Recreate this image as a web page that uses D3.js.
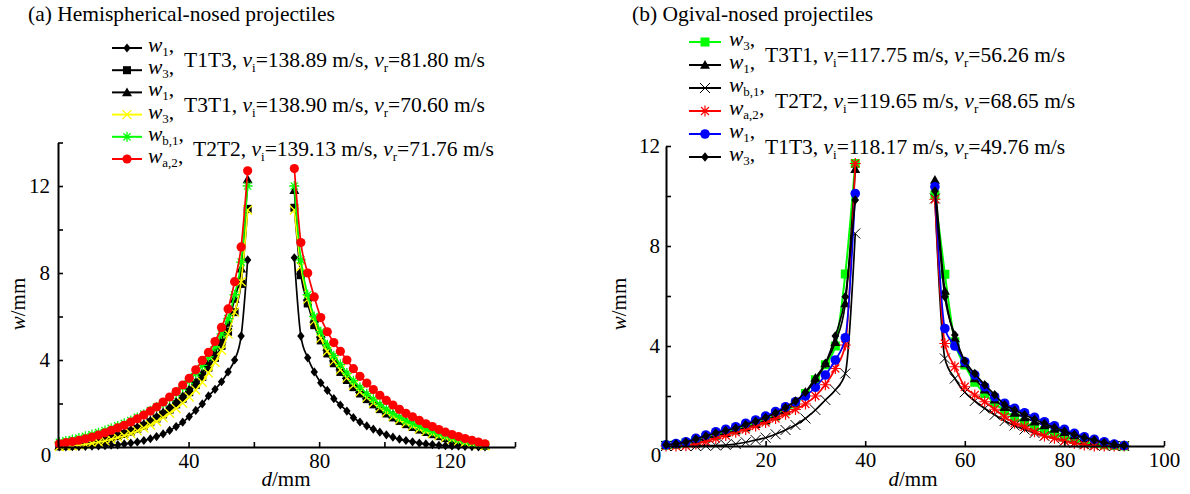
<!DOCTYPE html>
<html>
<head>
<meta charset="utf-8">
<script src="https://cdn.jsdelivr.net/npm/d3@7"></script>
<style>
  body { margin: 0; background: #fff; }
  svg text { font-family: "Liberation Serif", "DejaVu Serif", "Noto Serif", serif; fill: #000; }
</style>
</head>
<body>
<div id="chart"></div>
<script>
// ---- (a) Hemispherical-nosed projectiles ----
const dA_left = [0.4, 2.4, 4.4, 6.4, 8.4, 10.4, 12.4, 14.4, 16.3, 18.3, 20.3, 22.3, 24.3, 26.3, 28.3,
  30.2, 32.2, 34.2, 36.2, 38.2, 40.2, 42.2, 44.2, 46.1, 48.1, 50.1, 52.1, 54.1, 56.1, 58.1];
const dA_right = [72.4, 74.4, 76.5, 78.5, 80.5, 82.5, 84.5, 86.5, 88.5, 90.5, 92.5, 94.6, 96.6, 98.6, 100.6,
  102.6, 104.6, 106.6, 108.6, 110.7, 112.7, 114.7, 116.7, 118.7, 120.7, 122.7, 124.7, 126.8, 128.8, 130.8];

const a_T1T3_w1_L = [0.01, 0.01, 0.02, 0.02, 0.03, 0.04, 0.05, 0.06, 0.08, 0.1, 0.14, 0.18, 0.23, 0.3, 0.38,
  0.48, 0.6, 0.76, 0.94, 1.14, 1.4, 1.68, 1.98, 2.35, 2.65, 3.0, 3.45, 4.0, 5.1, 8.6];
const a_T1T3_w1_R = [8.7, 5.1, 4.1, 3.45, 2.95, 2.6, 2.22, 1.93, 1.65, 1.35, 1.15, 0.97, 0.82, 0.68, 0.56,
  0.45, 0.36, 0.3, 0.24, 0.18, 0.14, 0.11, 0.08, 0.06, 0.05, 0.04, 0.03, 0.02, 0.01, 0.01];
const a_T1T3_w3_L = [0.03, 0.05, 0.07, 0.1, 0.15, 0.2, 0.26, 0.33, 0.41, 0.5, 0.6, 0.71, 0.84, 0.98, 1.14,
  1.31, 1.5, 1.72, 1.96, 2.22, 2.52, 2.85, 3.22, 3.65, 4.1, 4.65, 5.3, 6.2, 7.5, 10.95];
const a_T1T3_w3_R = [11.0, 7.9, 6.6, 5.6, 4.9, 4.3, 3.85, 3.45, 3.08, 2.75, 2.46, 2.2, 1.96, 1.74, 1.54,
  1.36, 1.2, 1.05, 0.92, 0.8, 0.69, 0.59, 0.5, 0.41, 0.34, 0.27, 0.2, 0.15, 0.1, 0.06];
const a_T3T1_w1_L = [0.05, 0.07, 0.1, 0.15, 0.2, 0.25, 0.32, 0.39, 0.47, 0.56, 0.67, 0.79, 0.92, 1.06, 1.22,
  1.4, 1.6, 1.83, 2.08, 2.35, 2.65, 3.0, 3.4, 3.85, 4.35, 4.95, 5.7, 6.8, 8.2, 12.3];
const a_T3T1_w1_R = [11.8, 8.1, 6.9, 5.9, 5.2, 4.6, 4.1, 3.7, 3.3, 2.95, 2.65, 2.37, 2.12, 1.89, 1.68,
  1.49, 1.32, 1.17, 1.03, 0.9, 0.78, 0.67, 0.57, 0.48, 0.4, 0.32, 0.25, 0.19, 0.13, 0.08];
const a_T3T1_w3_L = [0.02, 0.04, 0.06, 0.09, 0.12, 0.17, 0.22, 0.28, 0.35, 0.43, 0.52, 0.62, 0.74, 0.87, 1.01,
  1.17, 1.35, 1.55, 1.77, 2.02, 2.3, 2.62, 2.98, 3.4, 3.9, 4.45, 5.2, 6.2, 7.6, 10.9];
const a_T3T1_w3_R = [10.9, 8.3, 6.8, 5.8, 5.0, 4.4, 3.95, 3.55, 3.18, 2.84, 2.54, 2.27, 2.02, 1.8, 1.6,
  1.41, 1.25, 1.1, 0.96, 0.84, 0.72, 0.62, 0.52, 0.43, 0.35, 0.28, 0.21, 0.15, 0.1, 0.06];
const a_T2T2_wb1_L = [0.22, 0.28, 0.34, 0.41, 0.49, 0.57, 0.66, 0.76, 0.86, 0.97, 1.09, 1.22, 1.36, 1.51, 1.67,
  1.84, 2.02, 2.24, 2.48, 2.75, 3.05, 3.38, 3.75, 4.15, 4.6, 5.2, 5.9, 7.0, 8.5, 12.0];
const a_T2T2_wb1_R = [12.0, 8.6, 7.0, 6.0, 5.3, 4.7, 4.2, 3.8, 3.4, 3.05, 2.75, 2.45, 2.2, 1.96, 1.74,
  1.54, 1.37, 1.22, 1.08, 0.95, 0.83, 0.72, 0.62, 0.53, 0.44, 0.36, 0.29, 0.22, 0.16, 0.1];
const a_T2T2_wa2_L = [0.15, 0.2, 0.25, 0.31, 0.38, 0.46, 0.55, 0.65, 0.76, 0.88, 1.0, 1.15, 1.3, 1.47, 1.65,
  1.84, 2.07, 2.3, 2.55, 2.85, 3.16, 3.55, 3.98, 4.35, 4.85, 5.5, 6.35, 7.6, 9.2, 12.7];
const a_T2T2_wa2_R = [12.8, 9.4, 8.0, 6.9, 5.95, 5.3, 4.8, 4.4, 4.0, 3.6, 3.25, 2.94, 2.64, 2.38, 2.14,
  1.93, 1.73, 1.55, 1.39, 1.22, 1.07, 0.94, 0.8, 0.68, 0.57, 0.48, 0.39, 0.31, 0.23, 0.15];

const subsA = ["1", "3", "1", "3", "b,1", "a,2"];
const casesA = ["T1T3", "T3T1", "T2T2"];
const viA = ["138.89", "138.90", "139.13"];
const vrA = ["81.80", "70.60", "71.76"];
const xTicksA = [20, 40, 60, 80, 100, 120, 140];
const xLabelsA = [40, 80, 120];
const yTicksA = [2, 4, 6, 8, 10, 12, 14];
const yLabelsA = [4, 8, 12];

// ---- (b) Ogival-nosed projectiles ----
const dB_left = [0, 2, 4, 6, 8, 10, 12, 14, 16, 18, 20, 22, 24, 26, 28, 30, 32, 34, 36, 38];
const dB_right = [54, 56, 58, 60, 62, 64, 66, 68, 70, 72, 74, 76, 78, 80, 82, 84, 86, 88, 90, 92];

const b_T3T1_w3_L = [0.03, 0.06, 0.12, 0.22, 0.33, 0.44, 0.54, 0.65, 0.77, 0.9, 1.04, 1.2, 1.4, 1.68, 2.1,
  2.65, 3.25, 4.0, 6.88, 11.3];
const b_T3T1_w3_R = [10.04, 6.87, 4.17, 3.24, 2.55, 2.1, 1.72, 1.4, 1.14, 0.93, 0.76, 0.61, 0.48, 0.36, 0.26,
  0.17, 0.1, 0.05, 0.02, 0.0];
const b_T3T1_w1_L = [0.03, 0.06, 0.12, 0.2, 0.3, 0.41, 0.51, 0.62, 0.74, 0.87, 1.02, 1.2, 1.42, 1.72, 2.15,
  2.72, 3.3, 4.15, 5.7, 11.07];
const b_T3T1_w1_R = [10.64, 6.2, 4.3, 3.3, 2.7, 2.25, 1.85, 1.55, 1.32, 1.14, 0.97, 0.82, 0.68, 0.55, 0.42,
  0.31, 0.21, 0.12, 0.06, 0.02];
const b_T2T2_wb1_L = [0, 0, 0, 0, 0.01, 0.02, 0.04, 0.08, 0.15, 0.24, 0.33, 0.47, 0.64, 0.84, 1.1,
  1.44, 1.84, 2.24, 2.9, 8.5];
const b_T2T2_wb1_R = [9.9, 3.5, 2.7, 2.15, 1.8, 1.5, 1.25, 1.0, 0.82, 0.66, 0.52, 0.4, 0.3, 0.2, 0.13,
  0.07, 0.03, 0.01, 0, 0];
const b_T2T2_wa2_L = [0, 0, 0.01, 0.08, 0.18, 0.3, 0.42, 0.55, 0.66, 0.8, 0.94, 1.1, 1.27, 1.46, 1.68,
  2.0, 2.45, 3.1, 4.04, 11.3];
const b_T2T2_wa2_R = [9.87, 4.1, 3.17, 2.37, 2.04, 1.77, 1.47, 1.17, 0.91, 0.77, 0.57, 0.4, 0.31, 0.2, 0.11,
  0.04, 0, 0, 0, 0];
const b_T1T3_w1_L = [0.05, 0.1, 0.17, 0.31, 0.44, 0.57, 0.67, 0.77, 0.91, 1.04, 1.2, 1.38, 1.57, 1.77, 2.0,
  2.35, 2.84, 3.44, 4.33, 10.1];
const b_T1T3_w1_R = [10.37, 4.7, 4.0, 3.37, 2.84, 2.37, 1.97, 1.71, 1.51, 1.33, 1.15, 0.97, 0.81, 0.67, 0.51,
  0.37, 0.27, 0.17, 0.08, 0.02];
const b_T1T3_w3_L = [0.05, 0.09, 0.16, 0.28, 0.4, 0.52, 0.62, 0.72, 0.86, 0.99, 1.14, 1.32, 1.54, 1.8, 2.15,
  2.64, 3.3, 4.4, 5.97, 9.84];
const b_T1T3_w3_R = [10.2, 5.97, 4.44, 3.4, 2.9, 2.45, 2.05, 1.65, 1.44, 1.25, 1.07, 0.9, 0.74, 0.6, 0.46,
  0.34, 0.24, 0.14, 0.07, 0.02];

const subsB = ["3", "1", "b,1", "a,2", "1", "3"];
const casesB = ["T3T1", "T2T2", "T1T3"];
const viB = ["117.75", "119.65", "118.17"];
const vrB = ["56.26", "68.65", "49.76"];
const xTicksB = [20, 40, 60, 80, 100];
const xLabelsB = [20, 40, 60, 80, 100];
const yTicksB = [2, 4, 6, 8, 10, 12];
const yLabelsB = [4, 8, 12];

// ---- drawing ----
const FONT = '"Liberation Serif", "DejaVu Serif", "Noto Serif", serif';
const W = 1190, H = 494;
const svg = d3.select("#chart").append("svg")
  .attr("width", W).attr("height", H)
  .attr("font-family", FONT);

// marker shapes, drawn centred on (0,0)
function drawMarker(g, m) {
  const s = m.size;
  if (m.type === "circle") {
    g.append("circle").attr("r", s).attr("fill", m.color);
  } else if (m.type === "square") {
    g.append("rect").attr("x", -s).attr("y", -s).attr("width", 2 * s).attr("height", 2 * s).attr("fill", m.color);
  } else if (m.type === "diamond") {
    g.append("path").attr("d", `M0,${-s}L${s * 0.8},0L0,${s}L${-s * 0.8},0Z`).attr("fill", m.color);
  } else if (m.type === "triangle") {
    g.append("path").attr("d", `M0,${-s}L${s},${s * 0.75}L${-s},${s * 0.75}Z`).attr("fill", m.color);
  } else if (m.type === "x") {
    g.append("path").attr("d", `M${-s},${-s}L${s},${s}M${-s},${s}L${s},${-s}`)
      .attr("stroke", m.color).attr("stroke-width", m.sw || 1.2).attr("fill", "none");
  } else if (m.type === "star") {
    const k = s * 0.72;
    g.append("path").attr("d", `M${-k},${-k}L${k},${k}M${-k},${k}L${k},${-k}M0,${-s}L0,${s}M${-s},0L${s},0`)
      .attr("stroke", m.color).attr("stroke-width", m.sw || 1.2).attr("fill", "none");
  }
}

// text with italic letter, subscript and normal runs
function richText(sel, x, y, parts, size, subDy = 5) {
  const t = sel.append("text").attr("x", x).attr("y", y)
    .style("font-size", size + "px").style("font-family", FONT);
  let shifted = 0;
  parts.forEach(p => {
    const ts = t.append("tspan").text(p.t);
    const want = p.sub ? subDy : 0;
    if (want !== shifted) { ts.attr("dy", want - shifted); shifted = want; }
    if (p.sub) ts.style("font-size", Math.round(size * 0.6) + "px");
    if (p.it) ts.style("font-style", "italic");
  });
  return t;
}

function drawPanel(p) {
  const g = svg.append("g");
  const x = d3.scaleLinear().domain(p.xDomain).range(p.xRange);
  const y = d3.scaleLinear().domain(p.yDomain).range(p.yRange);

  // title
  g.append("text").attr("x", p.titleX).attr("y", 21)
    .style("font-size", "21.5px").style("font-family", FONT).text(p.title);

  // series
  const line = d3.line().x(d => x(d[0])).y(d => y(d[1])).curve(d3.curveMonotoneX);
  p.series.forEach(s => {
    const sg = g.append("g");
    s.parts.forEach(([ds, ws]) => {
      const pts = d3.zip(ds, ws);
      sg.append("path").datum(pts).attr("d", line)
        .attr("fill", "none").attr("stroke", s.line).attr("stroke-width", s.lw || 1.7);
      pts.forEach(pt => {
        const mg = sg.append("g").attr("transform", `translate(${x(pt[0])},${y(pt[1])})`);
        drawMarker(mg, s.marker);
      });
    });
  });

  // axes
  const xAxis = d3.axisBottom(x).tickValues(p.xTicks).tickSizeInner(-5).tickSizeOuter(0)
    .tickPadding(6).tickFormat(d => p.xLabels.includes(d) ? d : "");
  const gx = g.append("g").attr("transform", `translate(0,${p.yRange[0]})`).call(xAxis);
  const yAxis = d3.axisLeft(y).tickValues(p.yTicks).tickSizeInner(-5).tickSizeOuter(0)
    .tickPadding(p.yPad).tickFormat(d => p.yLabels.includes(d) ? d : "");
  const gy = g.append("g").attr("transform", `translate(${p.xRange[0]},0)`).call(yAxis);
  [gx, gy].forEach(a => {
    a.attr("font-family", FONT).attr("font-size", 21);
    a.select(".domain").attr("stroke", "#000").attr("stroke-width", 2);
    a.selectAll(".tick line").attr("stroke", "#000").attr("stroke-width", 1.6);
    a.selectAll(".tick text").style("font-size", "21px").style("font-family", FONT).attr("fill", "#000");
  });
  g.append("text").attr("x", p.zero[0]).attr("y", p.zero[1]).attr("text-anchor", "middle")
    .attr("dy", "0.35em").style("font-size", "21px").style("font-family", FONT).text("0");

  // axis titles
  const xl = richText(g, p.xLabelPos[0], p.xLabelPos[1], [{ t: "d", it: true }, { t: "/mm" }], 21);
  xl.attr("text-anchor", "middle");
  const yl = richText(g, 0, 0, [{ t: "w", it: true }, { t: "/mm" }], 21);
  yl.attr("text-anchor", "middle").attr("transform", `translate(${p.yLabelPos[0]},${p.yLabelPos[1]}) rotate(-90)`);

  // legend
  const L = p.legend;
  p.series.forEach((s, i) => {
    const ry = L.y0 + i * L.dy;
    g.append("line").attr("x1", L.x1).attr("x2", L.x2).attr("y1", ry).attr("y2", ry)
      .attr("stroke", s.line).attr("stroke-width", 2);
    drawMarker(g.append("g").attr("transform", `translate(${(L.x1 + L.x2) / 2},${ry})`), s.marker);
    richText(g, L.labelX, ry + 4, [{ t: "w", it: true }, { t: p.subs[i], sub: true }, { t: "," }], 21.5, 4);
  });
  p.cases.forEach((c, j) => {
    const cy = L.y0 + (2 * j + 0.5) * L.dy + 8;
    richText(g, L.textX[j], cy, [
      { t: c + ", " }, { t: "v", it: true }, { t: "i", sub: true },
      { t: "=" + p.vi[j] + " m/s, " }, { t: "v", it: true }, { t: "r", sub: true },
      { t: "=" + p.vr[j] + " m/s" }
    ], 21.5);
  });
}

drawPanel({
  title: "(a) Hemispherical-nosed projectiles", titleX: 28,
  xDomain: [0, 140], xRange: [58, 515],
  yDomain: [0, 14], yRange: [447, 142.5],
  xTicks: xTicksA, xLabels: xLabelsA, yTicks: yTicksA, yLabels: yLabelsA, yPad: 8,
  zero: [46, 455], xLabelPos: [286, 486], yLabelPos: [25, 304],
  subs: subsA, cases: casesA, vi: viA, vr: vrA,
  legend: { x1: 112, x2: 142, labelX: 148, textX: [184, 184, 193], y0: 48, dy: 22.2 },
  series: [
    { parts: [[dA_left, a_T1T3_w1_L], [dA_right, a_T1T3_w1_R]], line: "#000", marker: { type: "diamond", size: 4.6, color: "#000" } },
    { parts: [[dA_left, a_T1T3_w3_L], [dA_right, a_T1T3_w3_R]], line: "#000", marker: { type: "square", size: 4, color: "#000" } },
    { parts: [[dA_left, a_T3T1_w1_L], [dA_right, a_T3T1_w1_R]], line: "#000", marker: { type: "triangle", size: 5, color: "#000" } },
    { parts: [[dA_left, a_T3T1_w3_L], [dA_right, a_T3T1_w3_R]], line: "#ffff00", marker: { type: "x", size: 4.5, color: "#ffff00", sw: 1.3 } },
    { parts: [[dA_left, a_T2T2_wb1_L], [dA_right, a_T2T2_wb1_R]], line: "#00ff00", marker: { type: "star", size: 5, color: "#00ff00", sw: 1.3 } },
    { parts: [[dA_left, a_T2T2_wa2_L], [dA_right, a_T2T2_wa2_R]], line: "#ff0000", marker: { type: "circle", size: 4.6, color: "#ff0000" } }
  ]
});

drawPanel({
  title: "(b) Ogival-nosed projectiles", titleX: 632,
  xDomain: [0, 100], xRange: [666, 1164],
  yDomain: [0, 12], yRange: [446, 146],
  xTicks: xTicksB, xLabels: xLabelsB, yTicks: yTicksB, yLabels: yLabelsB, yPad: 6,
  zero: [656, 455], xLabelPos: [913, 486], yLabelPos: [626, 304],
  subs: subsB, cases: casesB, vi: viB, vr: vrB,
  legend: { x1: 689, x2: 721, labelX: 729, textX: [765, 775, 765], y0: 42, dy: 23 },
  series: [
    { parts: [[dB_left, b_T3T1_w3_L], [dB_right, b_T3T1_w3_R]], line: "#00ff00", lw: 2, marker: { type: "square", size: 4.5, color: "#00ff00" } },
    { parts: [[dB_left, b_T3T1_w1_L], [dB_right, b_T3T1_w1_R]], line: "#000", marker: { type: "triangle", size: 5, color: "#000" } },
    { parts: [[dB_left, b_T2T2_wb1_L], [dB_right, b_T2T2_wb1_R]], line: "#000", marker: { type: "x", size: 5, color: "#000", sw: 1 } },
    { parts: [[dB_left, b_T2T2_wa2_L], [dB_right, b_T2T2_wa2_R]], line: "#ff0000", marker: { type: "star", size: 5.5, color: "#ff0000", sw: 1.2 } },
    { parts: [[dB_left, b_T1T3_w1_L], [dB_right, b_T1T3_w1_R]], line: "#0000ff", marker: { type: "circle", size: 4.8, color: "#0000ff" } },
    { parts: [[dB_left, b_T1T3_w3_L], [dB_right, b_T1T3_w3_R]], line: "#000", marker: { type: "diamond", size: 4.8, color: "#000" } }
  ]
});
</script>
</body>
</html>
